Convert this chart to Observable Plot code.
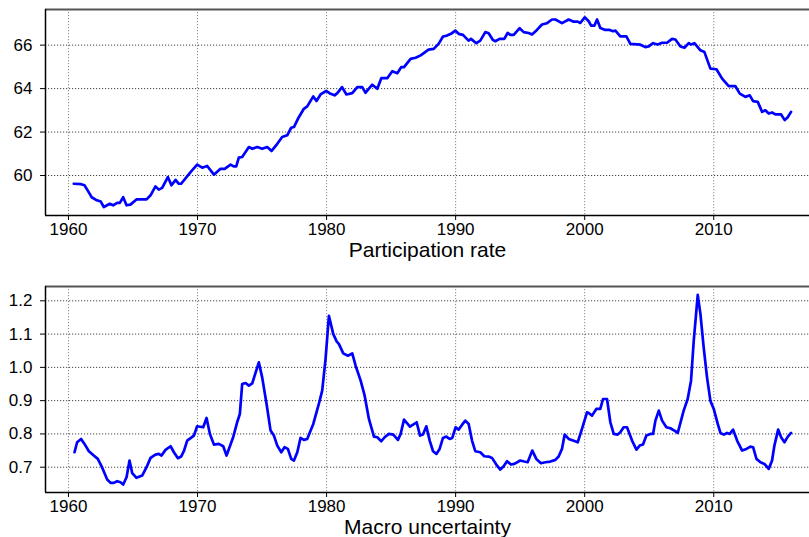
<!DOCTYPE html>
<html>
<head>
<meta charset="utf-8">
<script src="https://cdn.jsdelivr.net/npm/d3@7"></script>
<script src="https://cdn.jsdelivr.net/npm/@observablehq/plot@0.6"></script>
<style>
  html, body { margin: 0; padding: 0; background: #fff; overflow: hidden; }
  #chart svg { display: block; }
</style>
</head>
<body>
<div id="chart"></div>
<script>
// ---- Data ----
const xTicks = [1960, 1970, 1980, 1990, 2000, 2010];
const partTicks = [60, 62, 64, 66];
const uncTicks = [0.7, 0.8, 0.9, 1.0, 1.1, 1.2];
const partTitle = "Participation rate";
const uncTitle = "Macro uncertainty";

const partYears = [1960.41,1960.98,1961.24,1961.6,1961.8,1962.2,1962.5,1962.74,1963.2,1963.46,1963.77,1963.98,1964.24,1964.5,1964.8,1965.27,1966.05,1966.36,1966.74,1967.0,1967.26,1967.7,1967.98,1968.3,1968.55,1968.73,1969.46,1969.97,1970.36,1970.75,1971.27,1971.78,1972.1,1972.56,1972.8,1973.0,1973.2,1973.46,1973.98,1974.24,1974.63,1975.01,1975.4,1975.74,1976.18,1976.56,1976.95,1977.26,1977.47,1977.78,1978.24,1978.5,1978.97,1979.22,1979.53,1979.97,1980.31,1980.62,1980.83,1981.2,1981.54,1981.99,1982.38,1982.76,1983.02,1983.54,1983.93,1984.24,1984.7,1985.09,1985.48,1985.79,1986.0,1986.51,1986.9,1987.29,1987.9,1988.3,1988.68,1989.02,1989.33,1989.64,1989.97,1990.23,1990.57,1991.0,1991.19,1991.6,1991.91,1992.3,1992.56,1992.89,1993.07,1993.41,1993.77,1994.03,1994.24,1994.5,1994.96,1995.27,1995.66,1995.92,1996.3,1996.69,1997.08,1997.47,1997.73,1998.24,1998.76,1999.15,1999.46,1999.66,2000.0,2000.31,2000.5,2000.75,2000.96,2001.21,2001.6,2001.94,2002.2,2002.38,2002.76,2003.23,2003.54,2004.32,2004.7,2004.96,2005.3,2005.66,2006.0,2006.38,2006.77,2007.03,2007.42,2007.73,2008.06,2008.24,2008.5,2008.97,2009.28,2009.74,2010.21,2010.65,2011.16,2011.68,2012.02,2012.45,2012.79,2013.05,2013.41,2013.75,2014.0,2014.26,2014.52,2014.78,2015.22,2015.5,2015.73,2015.99];
const partValues = [59.62,59.6,59.55,59.2,59.0,58.86,58.8,58.55,58.7,58.63,58.74,58.74,59.0,58.63,58.66,58.9,58.9,59.09,59.5,59.35,59.43,59.93,59.55,59.8,59.62,59.62,60.16,60.5,60.36,60.44,60.04,60.31,60.31,60.5,60.42,60.42,60.82,60.85,61.31,61.23,61.31,61.23,61.31,61.13,61.46,61.77,61.85,62.2,62.23,62.61,63.07,63.18,63.64,63.43,63.73,63.89,63.76,63.69,63.79,64.07,63.73,63.79,64.07,64.07,63.81,64.18,63.99,64.48,64.48,64.8,64.71,64.99,64.99,65.37,65.42,65.53,65.79,65.83,66.06,66.4,66.44,66.52,66.67,66.52,66.47,66.21,66.29,66.09,66.21,66.6,66.55,66.24,66.18,66.29,66.29,66.56,66.47,66.47,66.78,66.6,66.56,66.49,66.7,66.95,67.01,67.18,67.18,67.01,67.18,67.08,67.08,67.02,67.28,67.1,66.9,66.9,67.18,66.79,66.7,66.7,66.64,66.67,66.4,66.4,66.06,66.02,65.91,65.94,66.09,66.03,66.11,66.11,66.29,66.26,65.94,65.88,66.09,66.03,66.09,65.76,65.68,64.92,64.89,64.46,64.11,64.11,63.77,63.62,63.69,63.42,63.39,62.93,63.0,62.85,62.9,62.81,62.81,62.55,62.68,62.93];

const uncYears = [1960.47,1960.67,1960.98,1961.24,1961.58,1961.96,1962.27,1962.6,1963.0,1963.26,1963.51,1963.77,1964.03,1964.24,1964.5,1964.73,1964.94,1965.27,1965.71,1966.05,1966.36,1966.74,1967.0,1967.21,1967.52,1967.91,1968.17,1968.48,1968.73,1968.94,1969.2,1969.72,1969.97,1970.44,1970.7,1970.96,1971.27,1971.65,1971.99,1972.25,1972.76,1973.07,1973.28,1973.46,1973.72,1973.98,1974.24,1974.75,1975.01,1975.35,1975.66,1975.92,1976.18,1976.49,1976.74,1977.0,1977.26,1977.47,1977.73,1977.98,1978.24,1978.5,1978.97,1979.4,1979.66,1979.92,1980.18,1980.52,1980.78,1980.96,1981.29,1981.65,1981.99,1982.25,1982.64,1982.95,1983.28,1983.67,1983.93,1984.24,1984.5,1984.83,1985.17,1985.53,1985.74,1986.0,1986.46,1986.98,1987.24,1987.47,1987.73,1987.99,1988.25,1988.51,1988.76,1989.02,1989.28,1989.53,1989.74,1990.0,1990.23,1990.49,1990.75,1991.01,1991.27,1991.52,1991.91,1992.22,1992.56,1992.82,1993.15,1993.46,1993.72,1993.98,1994.29,1994.55,1995.01,1995.32,1995.58,1995.94,1996.25,1996.61,1996.95,1997.34,1997.73,1997.98,1998.24,1998.45,1998.76,1999.1,1999.46,1999.79,2000.18,2000.31,2000.57,2000.9,2001.21,2001.42,2001.73,2001.99,2002.25,2002.56,2002.76,2003.02,2003.28,2003.67,2004.01,2004.26,2004.52,2004.78,2005.09,2005.3,2005.48,2005.74,2006.0,2006.33,2006.64,2006.95,2007.21,2007.67,2007.98,2008.24,2008.45,2008.76,2008.97,2009.22,2009.48,2009.74,2010.0,2010.31,2010.52,2010.78,2011.03,2011.24,2011.5,2011.81,2012.2,2012.53,2012.84,2013.05,2013.31,2013.62,2013.93,2014.26,2014.52,2014.7,2014.99,2015.22,2015.48,2015.74,2015.99];
const uncValues = [0.745,0.775,0.785,0.77,0.748,0.735,0.725,0.70,0.663,0.653,0.653,0.658,0.655,0.648,0.67,0.72,0.682,0.668,0.675,0.70,0.728,0.738,0.74,0.735,0.752,0.763,0.745,0.727,0.732,0.748,0.78,0.795,0.823,0.82,0.848,0.80,0.768,0.77,0.763,0.735,0.79,0.835,0.86,0.95,0.953,0.945,0.952,1.015,0.97,0.89,0.81,0.795,0.765,0.745,0.76,0.755,0.725,0.72,0.745,0.788,0.782,0.785,0.83,0.89,0.93,1.025,1.155,1.10,1.078,1.07,1.042,1.035,1.042,1.005,0.96,0.915,0.845,0.792,0.79,0.778,0.79,0.80,0.798,0.782,0.80,0.843,0.822,0.835,0.795,0.798,0.823,0.78,0.748,0.74,0.755,0.788,0.792,0.785,0.788,0.82,0.813,0.827,0.84,0.83,0.78,0.748,0.745,0.733,0.732,0.728,0.708,0.693,0.703,0.718,0.708,0.71,0.72,0.717,0.715,0.75,0.725,0.712,0.715,0.717,0.722,0.732,0.755,0.798,0.785,0.78,0.775,0.815,0.865,0.863,0.855,0.875,0.875,0.905,0.905,0.835,0.80,0.798,0.805,0.82,0.82,0.78,0.753,0.765,0.768,0.795,0.80,0.80,0.84,0.87,0.84,0.82,0.817,0.81,0.803,0.87,0.905,0.96,1.08,1.218,1.16,1.06,0.97,0.90,0.875,0.83,0.803,0.798,0.803,0.80,0.813,0.78,0.75,0.755,0.762,0.76,0.725,0.715,0.71,0.695,0.72,0.765,0.813,0.79,0.775,0.792,0.803];

// ---- Drawing ----
const xDomain = [1958.22, 2017.42];
const font = "'Liberation Sans', Arial, Helvetica, sans-serif";

function panel({years, values, yDomain, yTicks, yFormat, title, titleDy, height, marginTop, marginBottom}) {
  const data = years.map((y, i) => ({year: y, v: values[i]}));
  return Plot.plot({
    width: 809,
    height,
    marginTop,
    marginBottom,
    marginLeft: 45,
    marginRight: 0,
    style: {fontFamily: font, fontSize: "17px", color: "#000", background: "#fff", overflow: "visible"},
    x: {domain: xDomain},
    y: {domain: yDomain},
    marks: [
      Plot.ruleX(xTicks, {stroke: "#888", strokeWidth: 1, strokeDasharray: "1.2,1.8"}),
      Plot.ruleY(yTicks, {stroke: "#444", strokeWidth: 1, strokeDasharray: "1.2,1.8"}),
      Plot.ruleY([yDomain[1]], {stroke: "#555", strokeWidth: 2}),
      Plot.ruleY([yDomain[0]], {stroke: "#000", strokeWidth: 1.5}),
      Plot.ruleX([xDomain[0]], {stroke: "#000", strokeWidth: 1.5}),
      Plot.axisX({ticks: xTicks, tickFormat: "d", tickSize: 5, tickPadding: 2, label: null, stroke: "#000", fontSize: 17}),
      Plot.axisY({ticks: yTicks, tickFormat: yFormat, tickSize: 5, tickPadding: 8, label: null, stroke: "#000", fontSize: 17}),
      Plot.line(data, {x: "year", y: "v", stroke: "#0000ff", strokeWidth: 2.7, strokeLinejoin: "round"}),
      Plot.text([title], {frameAnchor: "bottom", dy: titleDy, text: d => d, fontSize: 21, fill: "#000", lineAnchor: "middle"})
    ]
  });
}

const topPanel = panel({
  years: partYears, values: partValues,
  yDomain: [58.16, 67.64], yTicks: partTicks, yFormat: d => String(d),
  title: partTitle, titleDy: 35, height: 262, marginTop: 9, marginBottom: 47
});
const bottomPanel = panel({
  years: uncYears, values: uncValues,
  yDomain: [0.624, 1.243], yTicks: uncTicks, yFormat: d3.format(".1f"),
  title: uncTitle, titleDy: 35, height: 290, marginTop: 24, marginBottom: 60
});
document.getElementById("chart").append(topPanel, bottomPanel);
</script>
</body>
</html>
